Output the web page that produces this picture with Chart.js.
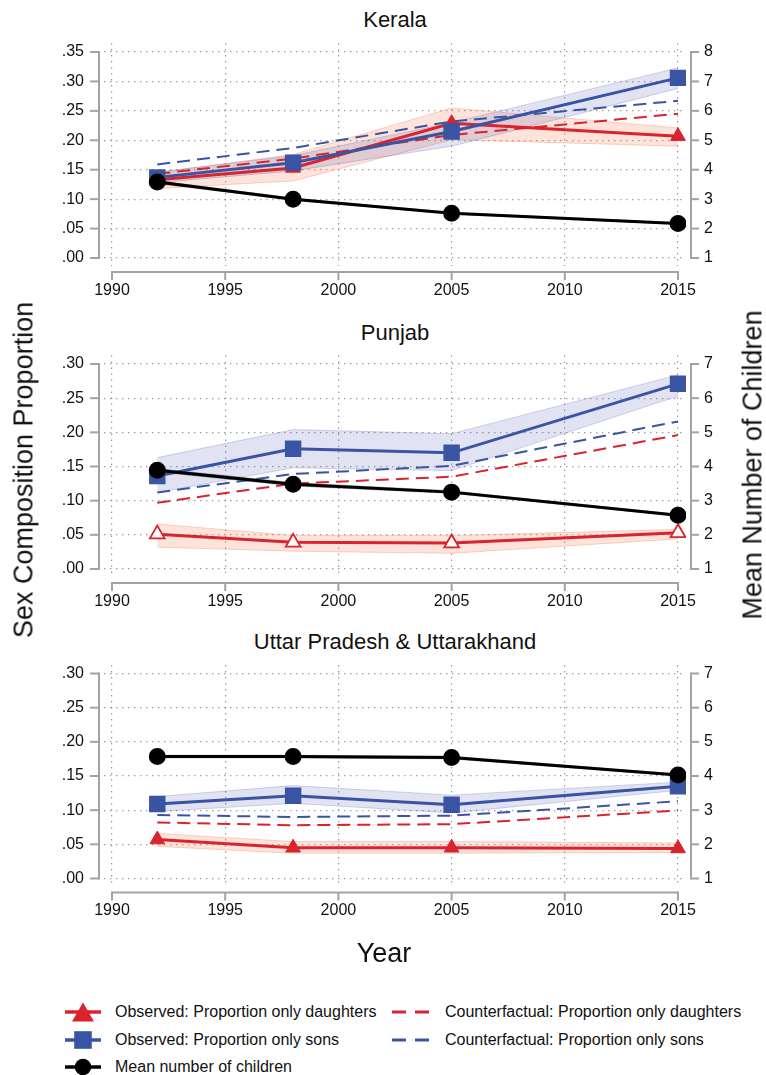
<!DOCTYPE html>
<html lang="en">
<head>
<meta charset="UTF-8">
<title>Sex composition and mean number of children</title>
<script src="https://cdn.jsdelivr.net/npm/chart.js"></script>
<style>
  body { margin: 0; background: #fff; font-family: 'Liberation Sans', Arial, sans-serif; color: #111; }
  #page { position: relative; width: 766px; height: 1075px; overflow: hidden; }
  canvas { position: absolute; left: 0; }
  .ptitle { position: absolute; left: 395px; font-size: 22px; line-height: 1; transform: translate(-50%, -50%); white-space: nowrap; }
  .atitle { position: absolute; font-size: 27px; line-height: 1; white-space: nowrap; transform: translate(-50%, -50%) rotate(-90deg); }
  .xtitle { position: absolute; left: 384px; top: 953px; font-size: 27px; line-height: 1; transform: translate(-50%, -50%); }
  .lg { position: absolute; height: 24px; display: flex; align-items: center; font-size: 16px; white-space: nowrap; }
  .lg svg { margin-right: 14px; }
</style>
</head>
<body>
<div id="page">
  <div class="ptitle" style="top:20px">Kerala</div>
  <div class="ptitle" style="top:333px">Punjab</div>
  <div class="ptitle" style="top:642px">Uttar Pradesh &amp; Uttarakhand</div>

  <canvas id="kerala" width="766" height="310" style="top:0"></canvas>
  <canvas id="punjab" width="766" height="310" style="top:310px"></canvas>
  <canvas id="up" width="766" height="320" style="top:620px"></canvas>

  <div class="atitle" style="left:24px; top:470px">Sex Composition Proportion</div>
  <div class="atitle" style="left:753px; top:465px">Mean Number of Children</div>
  <div class="xtitle">Year</div>

  <!-- legend -->
  <div class="lg" style="left:65px; top:1000px">
    <svg width="36" height="24"><line x1="0" y1="12" x2="36" y2="12" stroke="#d9232e" stroke-width="3.5"/><polygon points="18,2.5 29,21.5 7,21.5" fill="#d9232e"/></svg>
    Observed: Proportion only daughters
  </div>
  <div class="lg" style="left:65px; top:1028px">
    <svg width="36" height="24"><line x1="0" y1="12" x2="36" y2="12" stroke="#3a54a4" stroke-width="3.5"/><rect x="9.2" y="3.2" width="17.6" height="17.6" fill="#3a54a4"/></svg>
    Observed: Proportion only sons
  </div>
  <div class="lg" style="left:65px; top:1055px">
    <svg width="36" height="24"><line x1="0" y1="12" x2="36" y2="12" stroke="#000" stroke-width="3.5"/><circle cx="18" cy="12" r="8.3" fill="#000"/></svg>
    Mean number of children
  </div>
  <div class="lg" style="left:391px; top:1000px">
    <svg width="40" height="24"><line x1="1" y1="12" x2="40" y2="12" stroke="#d9232e" stroke-width="3" stroke-dasharray="14 9"/></svg>
    Counterfactual: Proportion only daughters
  </div>
  <div class="lg" style="left:391px; top:1028px">
    <svg width="40" height="24"><line x1="1" y1="12" x2="40" y2="12" stroke="#3a54a4" stroke-width="3" stroke-dasharray="14 9"/></svg>
    Counterfactual: Proportion only sons
  </div>
</div>

<script>
// survey years and axis ticks
const years = [1992, 1998, 2005, 2015];
const yearTicks = [1990, 1995, 2000, 2005, 2010, 2015];
const propTicksKerala = [0, 0.05, 0.10, 0.15, 0.20, 0.25, 0.30, 0.35];
const propTicks = [0, 0.05, 0.10, 0.15, 0.20, 0.25, 0.30];
const childTicksKerala = [1, 2, 3, 4, 5, 6, 7, 8];
const childTicks = [1, 2, 3, 4, 5, 6, 7];

// Kerala
const keralaDaughters = [0.133, 0.153, 0.229, 0.207];
const keralaDaughtersLo = [0.118, 0.131, 0.201, 0.190];
const keralaDaughtersHi = [0.145, 0.176, 0.255, 0.221];
const keralaSons = [0.137, 0.162, 0.215, 0.306];
const keralaSonsLo = [0.128, 0.148, 0.190, 0.288];
const keralaSonsHi = [0.146, 0.174, 0.230, 0.323];
const keralaCfDaughters = [0.143, 0.169, 0.209, 0.245];
const keralaCfSons = [0.159, 0.187, 0.232, 0.267];
const keralaChildren = [3.58, 3.00, 2.52, 2.17];
const keralaChildrenLo = [3.53, 2.96, 2.49, 2.14];
const keralaChildrenHi = [3.63, 3.04, 2.55, 2.20];

// Punjab
const punjabDaughters = [0.051, 0.039, 0.038, 0.053];
const punjabDaughtersLo = [0.032, 0.026, 0.023, 0.044];
const punjabDaughtersHi = [0.066, 0.049, 0.049, 0.058];
const punjabSons = [0.136, 0.176, 0.170, 0.271];
const punjabSonsLo = [0.112, 0.148, 0.144, 0.253];
const punjabSonsHi = [0.163, 0.204, 0.198, 0.284];
const punjabCfDaughters = [0.097, 0.125, 0.135, 0.196];
const punjabCfSons = [0.112, 0.139, 0.151, 0.216];
const punjabChildren = [3.89, 3.48, 3.25, 2.57];
const punjabChildrenLo = [3.84, 3.43, 3.21, 2.54];
const punjabChildrenHi = [3.94, 3.53, 3.29, 2.60];

// Uttar Pradesh & Uttarakhand
const upDaughters = [0.057, 0.045, 0.045, 0.044];
const upDaughtersLo = [0.047, 0.037, 0.037, 0.038];
const upDaughtersHi = [0.066, 0.054, 0.054, 0.052];
const upSons = [0.109, 0.121, 0.108, 0.135];
const upSonsLo = [0.098, 0.110, 0.096, 0.129];
const upSonsHi = [0.120, 0.136, 0.122, 0.141];
const upCfDaughters = [0.082, 0.078, 0.0795, 0.0995];
const upCfSons = [0.093, 0.090, 0.092, 0.113];
const upChildren = [4.57, 4.57, 4.54, 4.03];
const upChildrenLo = [4.53, 4.53, 4.50, 4.00];
const upChildrenHi = [4.61, 4.61, 4.58, 4.06];

const RED = '#d9232e';
const BLUE = '#3a54a4';
const FONT = "'Liberation Sans', Arial, sans-serif";

const pts = vals => years.map((yr, i) => ({ x: yr, y: vals[i] }));

// Stata-like axis lines, drawn off the plot region
const stataAxes = {
    id: 'stataAxes',
    afterDraw(chart) {
        const { ctx, chartArea: a, scales } = chart;
        const { x, y, y1 } = scales;
        const seg = (x0, y0, x1, y1_) => { ctx.beginPath(); ctx.moveTo(x0, y0); ctx.lineTo(x1, y1_); ctx.stroke(); };
        ctx.save();
        ctx.strokeStyle = '#a3a3a3';
        ctx.lineWidth = 2;

        const lx = a.left - 5;
        const lt = y.ticks.map(t => y.getPixelForValue(t.value));
        seg(lx, Math.min(...lt) - 1, lx, Math.max(...lt) + 1);
        lt.forEach(p => seg(lx - 9, p, lx, p));

        const rx = a.right + 5;
        const rt = y1.ticks.map(t => y1.getPixelForValue(t.value));
        seg(rx, Math.min(...rt) - 1, rx, Math.max(...rt) + 1);
        rt.forEach(p => seg(rx, p, rx + 8, p));

        const by = a.bottom + 6.5;
        const bt = x.ticks.map(t => x.getPixelForValue(t.value));
        seg(Math.min(...bt) - 1, by, Math.max(...bt) + 1, by);
        bt.forEach(p => seg(p, by, p, by + 8));
        ctx.restore();
    }
};

function band(lo, hi, fill, edge, axis, order) {
    return [
        { data: pts(hi), yAxisID: axis, borderColor: edge, borderWidth: 1, pointRadius: 0, fill: false, order: order },
        { data: pts(lo), yAxisID: axis, borderColor: edge, borderWidth: 1, pointRadius: 0, fill: '-1', backgroundColor: fill, order: order }
    ];
}

function makePanel(p) {
    const y1Min = 1 + p.yMin / 0.05;
    const y1Max = 1 + p.yMax / 0.05;
    const tickFont = { family: FONT, size: 16 };
    const datasets = [
        ...band(p.dLo, p.dHi, 'rgba(245,115,70,0.2)', 'rgba(240,120,80,0.3)', 'y', 10),
        ...band(p.sLo, p.sHi, 'rgba(60,70,170,0.15)', 'rgba(60,70,170,0.22)', 'y', 9),
        ...band(p.cLo, p.cHi, 'rgba(0,0,0,0.3)', 'rgba(0,0,0,0.2)', 'y1', 8),
        { data: pts(p.cfD), yAxisID: 'y', borderColor: RED, borderWidth: 2, borderDash: [13, 7], pointRadius: 0, fill: false, order: 5 },
        { data: pts(p.cfS), yAxisID: 'y', borderColor: BLUE, borderWidth: 2, borderDash: [13, 7], pointRadius: 0, fill: false, order: 4 },
        { data: pts(p.d), yAxisID: 'y', borderColor: RED, borderWidth: 3, fill: false, order: 3,
          pointStyle: 'triangle', pointRadius: 8.5, pointBorderWidth: p.hollow ? 1.8 : 1,
          pointBackgroundColor: p.hollow ? '#fff' : RED, pointBorderColor: RED },
        { data: pts(p.s), yAxisID: 'y', borderColor: BLUE, borderWidth: 3, fill: false, order: 2,
          pointStyle: 'rect', pointRadius: 9.5, pointBackgroundColor: BLUE, pointBorderColor: BLUE },
        { data: pts(p.c), yAxisID: 'y1', borderColor: '#000', borderWidth: 3, fill: false, order: 1,
          pointStyle: 'circle', pointRadius: 7, pointBackgroundColor: '#000', pointBorderColor: '#000' }
    ];
    const gridStyle = { color: '#9c9c9c', lineWidth: 1.2, drawTicks: false };
    const dots = { display: false, dash: [1.4, 4.6] };
    return new Chart(document.getElementById(p.id), {
        type: 'line',
        data: { datasets },
        options: {
            responsive: false,
            animation: false,
            devicePixelRatio: 1,
            layout: { padding: { top: p.padTop, left: 0, right: 0, bottom: 0 } },
            plugins: { legend: { display: false }, tooltip: { enabled: false } },
            elements: { line: { tension: 0 } },
            scales: {
                x: {
                    type: 'linear', min: 1989.647, max: 2015.353,
                    afterBuildTicks: s => { s.ticks = yearTicks.map(v => ({ value: v })); },
                    afterFit: s => { s.height = p.xHeight; },
                    grid: gridStyle, border: dots,
                    ticks: { font: tickFont, color: '#111', padding: 15, maxRotation: 0, callback: v => String(v) }
                },
                y: {
                    position: 'left', min: p.yMin, max: p.yMax,
                    afterBuildTicks: s => { s.ticks = p.propTicks.map(v => ({ value: v })); },
                    afterFit: s => { s.width = 104; },
                    grid: gridStyle, border: dots,
                    ticks: { font: tickFont, color: '#111', padding: 20, callback: v => v.toFixed(2).replace(/^0/, '') }
                },
                y1: {
                    position: 'right', min: y1Min, max: y1Max,
                    afterBuildTicks: s => { s.ticks = p.childTicks.map(v => ({ value: v })); },
                    afterFit: s => { s.width = 80; },
                    grid: { display: false, drawTicks: false }, border: { display: false },
                    ticks: { font: tickFont, color: '#111', padding: 18, callback: v => String(v) }
                }
            }
        },
        plugins: [stataAxes]
    });
}

makePanel({
    id: 'kerala', padTop: 43, xHeight: 44.5, yMin: -0.01274, yMax: 0.3653,
    propTicks: propTicksKerala, childTicks: childTicksKerala, hollow: false,
    d: keralaDaughters, dLo: keralaDaughtersLo, dHi: keralaDaughtersHi,
    s: keralaSons, sLo: keralaSonsLo, sHi: keralaSonsHi,
    cfD: keralaCfDaughters, cfS: keralaCfSons,
    c: keralaChildren, cLo: keralaChildrenLo, cHi: keralaChildrenHi
});

makePanel({
    id: 'punjab', padTop: 45.5, xHeight: 43.5, yMin: -0.010976, yMax: 0.31244,
    propTicks: propTicks, childTicks: childTicks, hollow: true,
    d: punjabDaughters, dLo: punjabDaughtersLo, dHi: punjabDaughtersHi,
    s: punjabSons, sLo: punjabSonsLo, sHi: punjabSonsHi,
    cfD: punjabCfDaughters, cfS: punjabCfSons,
    c: punjabChildren, cLo: punjabChildrenLo, cHi: punjabChildrenHi
});

makePanel({
    id: 'up', padTop: 45, xHeight: 54, yMin: -0.010976, yMax: 0.31244,
    propTicks: propTicks, childTicks: childTicks, hollow: false,
    d: upDaughters, dLo: upDaughtersLo, dHi: upDaughtersHi,
    s: upSons, sLo: upSonsLo, sHi: upSonsHi,
    cfD: upCfDaughters, cfS: upCfSons,
    c: upChildren, cLo: upChildrenLo, cHi: upChildrenHi
});
</script>
</body>
</html>
